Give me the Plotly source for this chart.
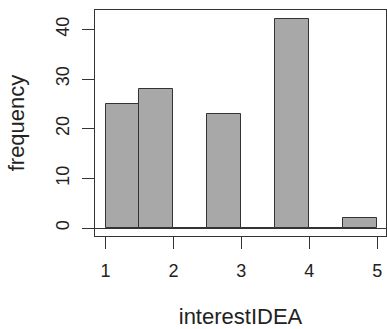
import plotly.graph_objects as go

bin_left = [1.0, 1.5, 2.0, 2.5, 3.0, 3.5, 4.0, 4.5]
counts = [25, 28, 0, 23, 0, 42, 0, 2]
x_ticks = [1, 2, 3, 4, 5]
y_ticks = [0, 10, 20, 30, 40]
x_title = "interestIDEA"
y_title = "frequency"

fig = go.Figure(go.Bar(
    x=bin_left, y=counts, width=0.5, offset=0,
    marker=dict(color="#A8A8A8", line=dict(color="#333333", width=1)),
    showlegend=False,
))

font = dict(family="Liberation Sans, Arial, sans-serif", size=18, color="#222222")

fig.update_layout(
    width=387, height=329,
    margin=dict(l=95, r=1, t=10, b=93, pad=0, autoexpand=False),
    paper_bgcolor="white", plot_bgcolor="white",
    font=font,
    bargap=0,
    xaxis=dict(
        range=[0.845, 5.13], tickmode="array", tickvals=x_ticks,
        ticktext=[str(v) for v in x_ticks],
        ticks="outside", ticklen=12, tickwidth=1, tickcolor="#333333",
        showline=True, linecolor="#333333", linewidth=1, mirror=True,
        showgrid=False, zeroline=False, automargin=False,
        title=dict(text=x_title, standoff=33),
        ticklabelstandoff=6,
    ),
    yaxis=dict(
        range=[-1.6, 43.9], tickmode="array", tickvals=y_ticks,
        ticktext=[str(v) for v in y_ticks],
        tickangle=-90,
        ticks="outside", ticklen=12, tickwidth=1, tickcolor="#333333",
        showline=True, linecolor="#333333", linewidth=1, mirror=True,
        showgrid=False, zeroline=True, zerolinecolor="#333333", zerolinewidth=1,
        automargin=False,
        title=dict(text=y_title, standoff=22),
        ticklabelstandoff=6,
    ),
)

fig.write_html(
    "out.html",
    config={"displayModeBar": False},
    post_script="document.body.style.margin='0';document.body.style.padding='0';",
)
